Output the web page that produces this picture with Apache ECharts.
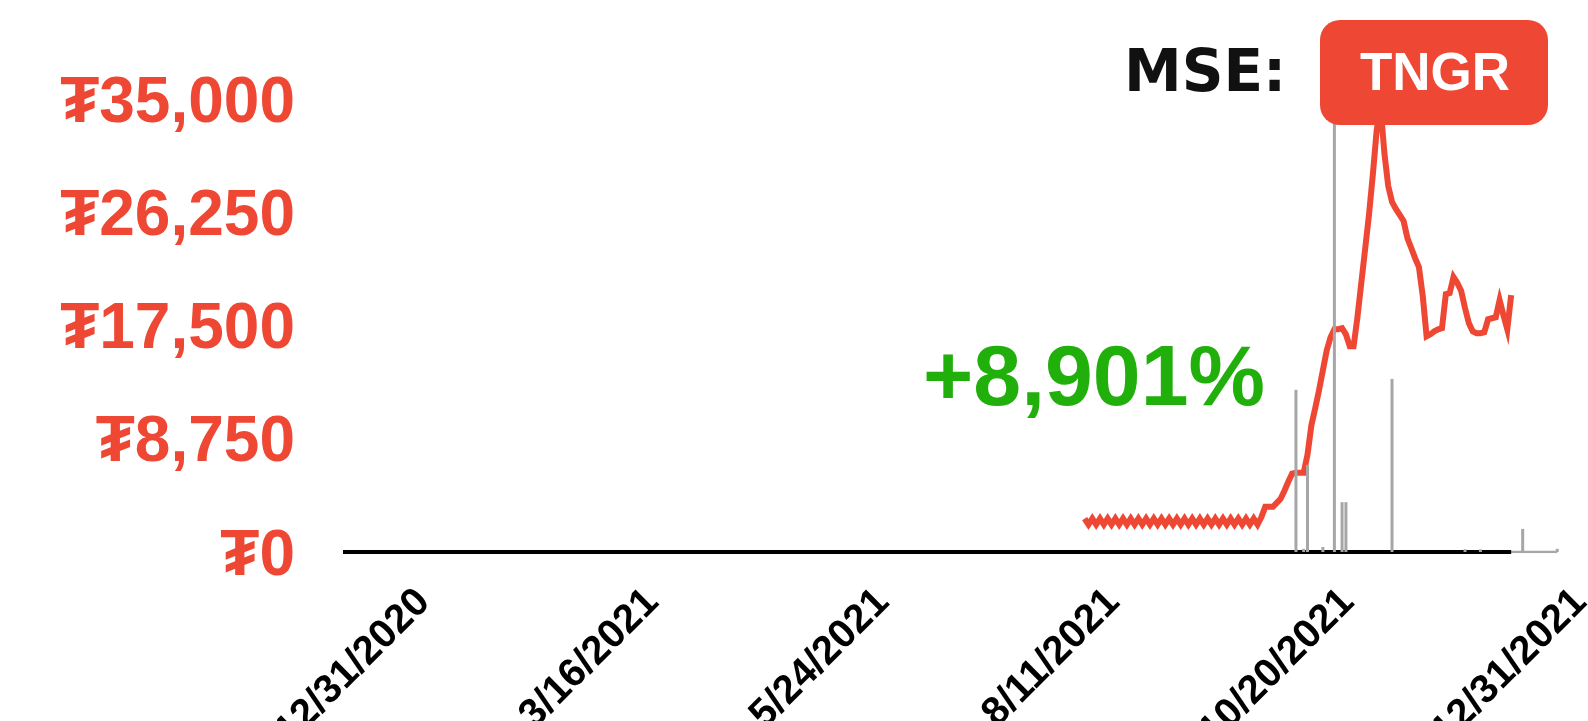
<!DOCTYPE html>
<html><head><meta charset="utf-8">
<script src="https://cdn.jsdelivr.net/npm/echarts@6/dist/echarts.min.js"></script>
<style>html,body{margin:0;padding:0;background:#fff}#c{width:1588px;height:721px}</style>
</head><body><div id="c"></div>
<script>
// x positions are trading-day indices
const tickLabels = ['12/31/2020','3/16/2021','5/24/2021','8/11/2021','10/20/2021','12/31/2021'];
const tickIndex = [22, 81.5, 141.5, 201.5, 262.5, 323];
const yMax = 35000, yStep = 8750;
const priceStart = 194;
const priceValues = [
  2580,2120,2580,2120,2580,2120,2580,2120,2580,2120,
  2580,2120,2580,2120,2580,2120,2580,2120,2580,2120,
  2580,2120,2580,2120,2580,2120,2580,2120,2580,2120,
  2580,2120,2580,2120,2580,2120,2580,2120,2580,2120,
  2580,2120,2580,2120,2580,2120,
  2700,3490,3490,3490,3800,4110,4730,5430,6050,6120,
  6120,6120,7520,9770,11090,12480,14030,15580,16590,17210,
  17210,17290,16820,15890,15890,18140,20780,23410,26050,29150,
  32560,34500,30850,28290,27050,26510,26050,25580,24260,23490,
  22710,22020,19770,16670,16820,17050,17210,17290,19920,20000,
  21240,20780,20160,18840,17680,17050,16900,16900,16980,17980,
  18060,18140,19460,18300,17210,19850
];
const volumeIndex  = [249, 251, 252, 256, 259, 261, 262, 274, 293, 297, 308, 317];
const volumeValues = [35.8, 0.7, 19.2, 1.1, 97, 11, 11, 38.2, 0.6, 0.6, 5.1, 0.7];
const changeText = '+8,901%';
const exchangeText = 'MSE:';
const tickerText = 'TNGR';

const xMin = 1, xMax = 325;
const RED = '#EE4733';
const priceData = priceValues.map((v, i) => [priceStart + i, v]);
const volumeData = volumeValues.map((v, i) => [volumeIndex[i], v]);
const lastPrice = priceStart + priceValues.length - 1;
const lastVol = volumeIndex[volumeIndex.length - 1];

const chart = echarts.init(document.getElementById('c'));
chart.setOption({
  animation: false,
  backgroundColor: '#fff',
  grid: { left: 343, right: 0, top: 99, bottom: 169, containLabel: false, outerBoundsMode: 'none' },
  xAxis: {
    type: 'value', min: xMin, max: xMax,
    axisLine: { show: false }, axisTick: { show: false }, splitLine: { show: false },
    axisLabel: {
      customValues: tickIndex,
      formatter: v => tickLabels[tickIndex.indexOf(v)] || '',
      rotate: 45, margin: 44, color: '#000', fontWeight: 'bold', fontSize: 40,
      fontFamily: "'Liberation Sans', Arial, sans-serif", hideOverlap: false
    }
  },
  yAxis: [{
    type: 'value', min: 0, max: yMax, interval: yStep,
    axisLine: { show: false }, axisTick: { show: false }, splitLine: { show: false },
    axisLabel: {
      formatter: v => '₮' + v.toLocaleString('en-US'),
      color: RED, fontWeight: 'bold', fontSize: 64, margin: 48,
      verticalAlign: 'top', lineHeight: 10,
      fontFamily: "'Liberation Sans', 'DejaVu Sans', sans-serif"
    }
  }, {
    type: 'value', min: 0, max: 100, show: false
  }],
  series: [
    { type: 'line', name: 'base2', data: [[xMin, 0], [lastVol, 0]], symbol: 'none', silent: true,
      lineStyle: { color: '#a6a6a6', width: 2.5 }, z: 1 },
    { type: 'line', name: 'base', data: [[xMin, 0], [lastPrice, 0]], symbol: 'none', silent: true,
      lineStyle: { color: '#000', width: 4 }, z: 2 },
    { type: 'line', name: 'price', data: priceData, symbol: 'none',
      lineStyle: { color: RED, width: 6, join: 'miter' }, z: 3 },
    { type: 'bar', name: 'volume', yAxisIndex: 1, data: volumeData, barWidth: 3,
      itemStyle: { color: '#a6a6a6' }, z: 4 }
  ],
  graphic: [
    { type: 'text', x: 1124, y: 76, z: 100,
      style: { text: exchangeText, font: "bold 58px 'DejaVu Sans'", fill: '#111', align: 'left', verticalAlign: 'middle' } },
    { type: 'rect', z: 100, shape: { x: 1320, y: 20, width: 228, height: 105, r: 20 }, style: { fill: RED } },
    { type: 'text', x: 1435, y: 75, z: 101,
      style: { text: tickerText, font: "bold 53px 'Liberation Sans'", fill: '#fff', align: 'center', verticalAlign: 'middle' } },
    { type: 'text', x: 1265, y: 381, z: 100,
      style: { text: changeText, font: "bold 86px 'Liberation Sans'", fill: '#21AF0B', align: 'right', verticalAlign: 'middle' } }
  ]
});
</script></body></html>
